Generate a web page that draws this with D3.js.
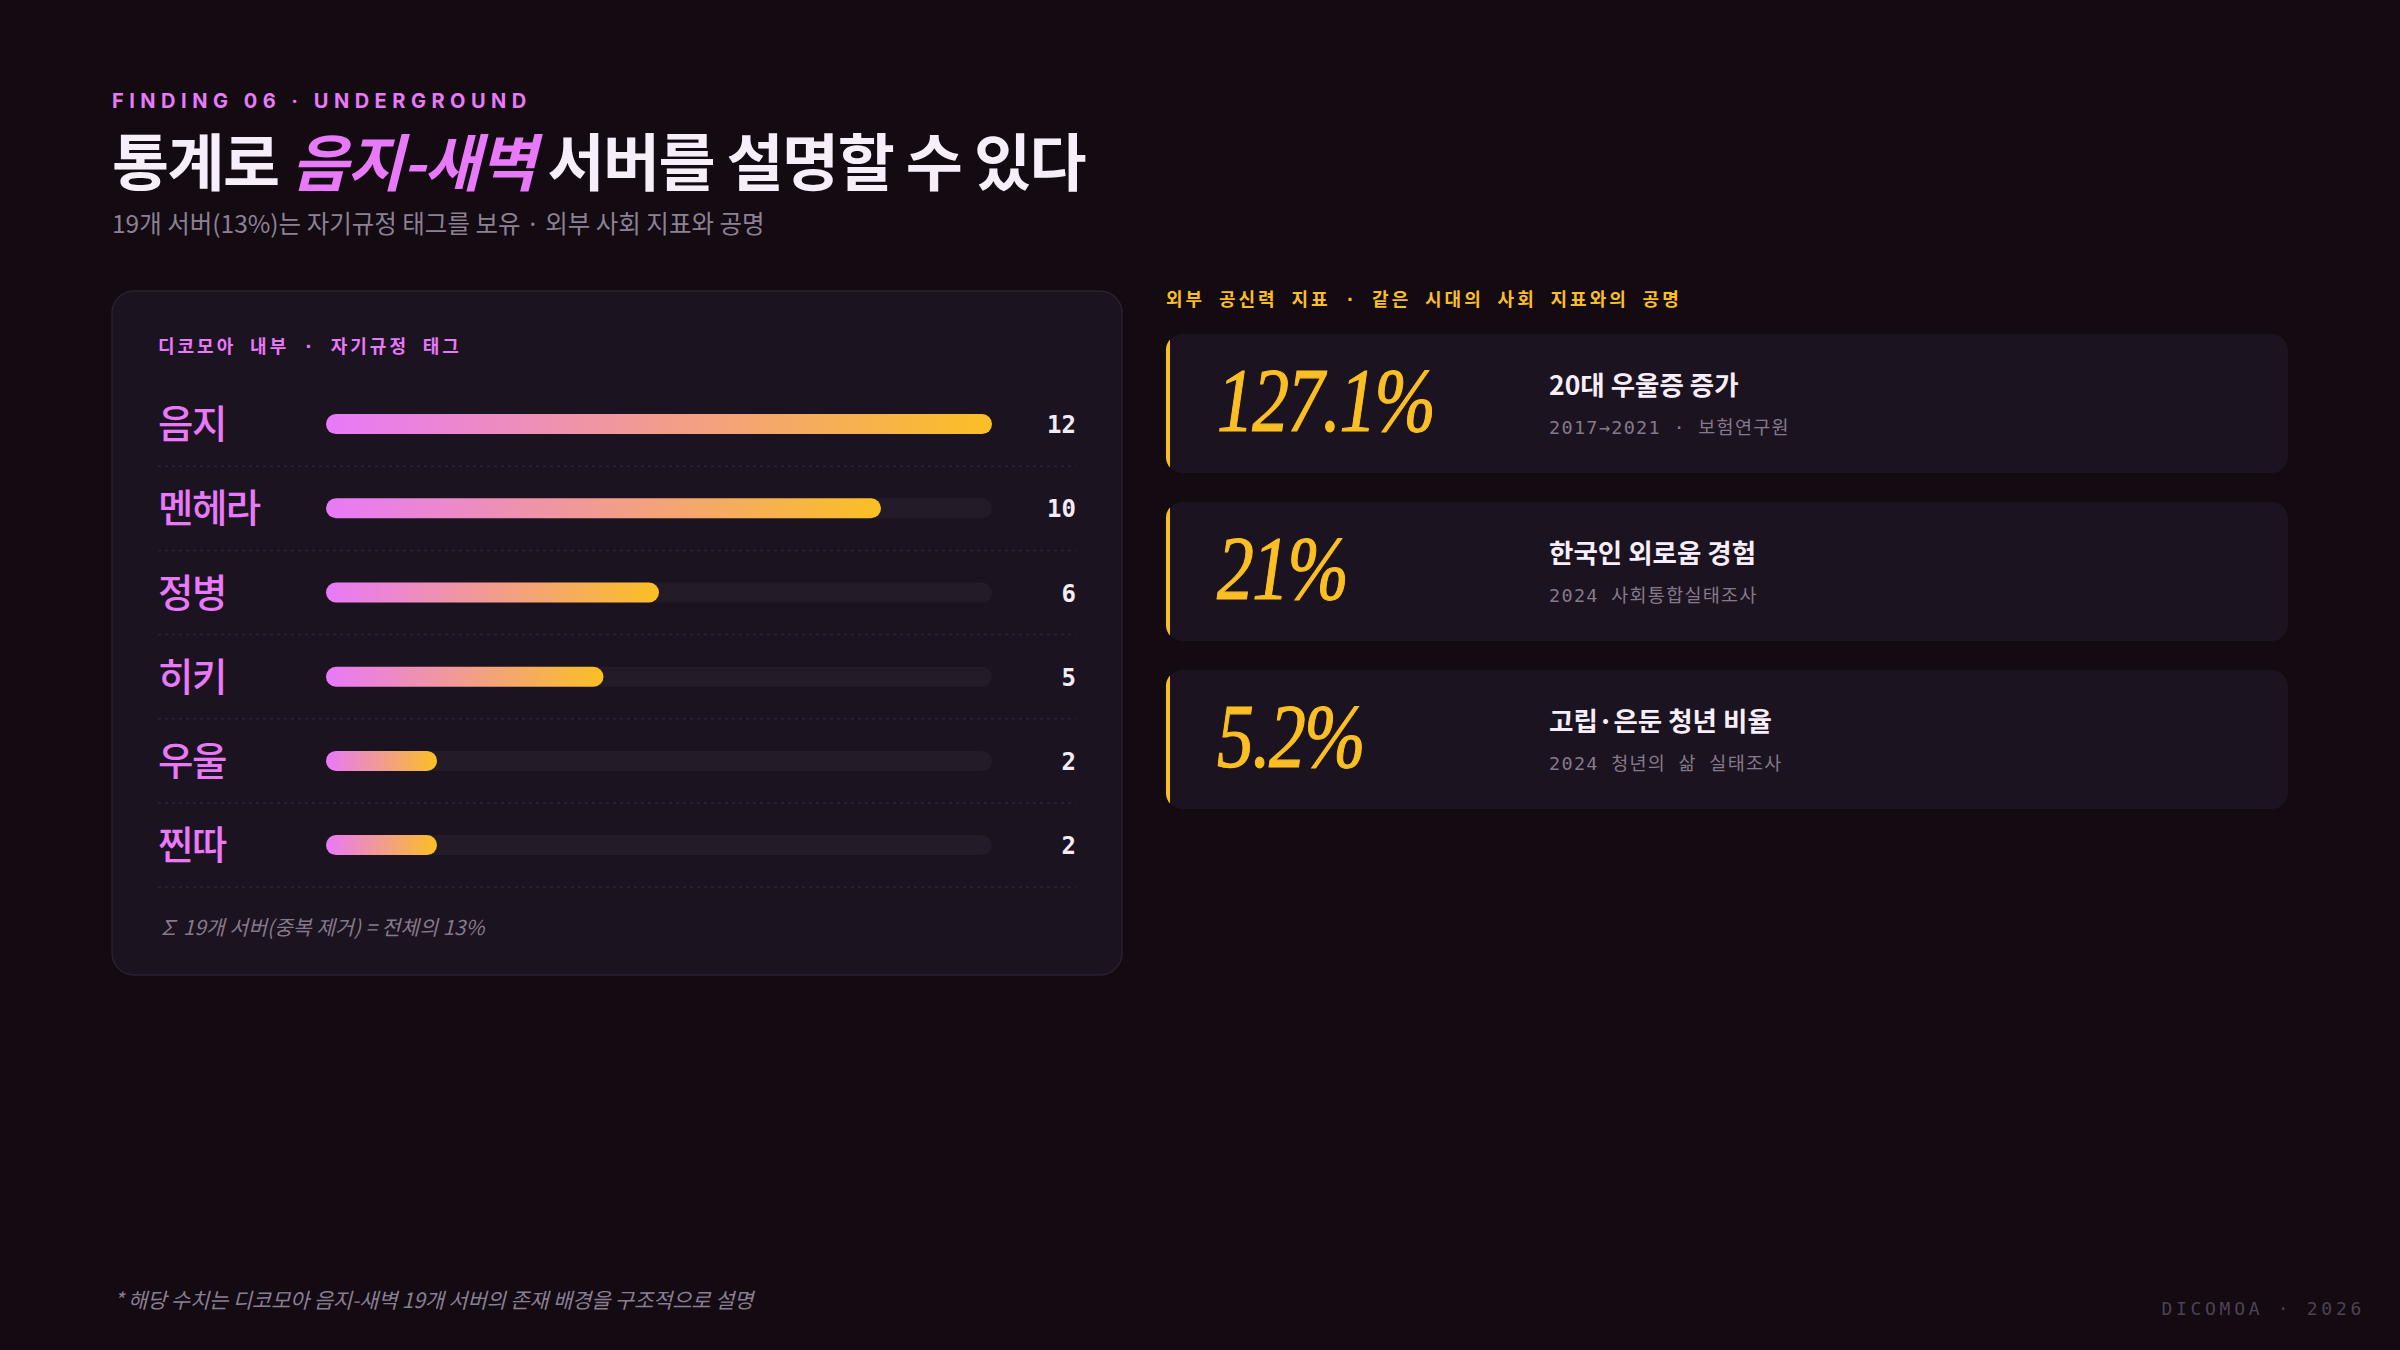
<!DOCTYPE html>
<html><head><meta charset="utf-8">
<script src="https://cdn.jsdelivr.net/npm/d3@7/dist/d3.min.js"></script>
<style>
html,body{margin:0;padding:0;background:#130a12;}
svg{display:block;}
</style></head>
<body>
<svg id="chart" width="2400" height="1350"></svg>
<script>
// ---- data ----
const tagCategories = ["음지", "멘헤라", "정병", "히키", "우울", "찐따"];
const tagCounts = [12, 10, 6, 5, 2, 2];
const statValues = ["127.1%", "21%", "5.2%"];
const statTitles = ["20대 우울증 증가", "한국인 외로움 경험", "고립·은둔 청년 비율"];
const statSources = ["2017→2021 · 보험연구원", "2024 사회통합실태조사", "2024 청년의 삶 실태조사"];
const eyebrowText = "FINDING 06 · UNDERGROUND";
const titleParts = ["통계로 ", "음지-새벽", " 서버를 설명할 수 있다"];
const subtitleText = "19개 서버(13%)는 자기규정 태그를 보유 · 외부 사회 지표와 공명";
const panelHeader = "디코모아 내부 · 자기규정 태그";
const panelFooter = "∑ 19개 서버(중복 제거) = 전체의 13%";
const rightHeader = "외부 공신력 지표 · 같은 시대의 사회 지표와의 공명";
const footnote = "* 해당 수치는 디코모아 음지-새벽 19개 서버의 존재 배경을 구조적으로 설명";
const brand = "DICOMOA · 2026";

const svg = d3.select("#chart");
const KR = "'Noto Sans CJK KR', 'Noto Sans', sans-serif";
const MONO = "'DejaVu Sans Mono', 'Noto Sans CJK KR', monospace";
const PINK = "#e879f9", GOLD = "#fbbf24";

const defs = svg.append("defs");
const grad = defs.append("linearGradient").attr("id", "barGrad")
  .attr("x1", 0).attr("x2", 1).attr("y1", 0).attr("y2", 0);
grad.append("stop").attr("offset", "0%").attr("stop-color", PINK);
grad.append("stop").attr("offset", "100%").attr("stop-color", GOLD);

svg.append("rect").attr("width", 2400).attr("height", 1350).attr("fill", "#130a12");

// ---- header ----
svg.append("text").attr("x", 112).attr("y", 108)
  .attr("font-family", "Inter, 'Noto Sans', sans-serif").attr("font-weight", 700)
  .attr("font-size", 20).attr("letter-spacing", 5.5).attr("fill", PINK)
  .text(eyebrowText);

const title = svg.append("text").attr("x", 112).attr("y", 186)
  .attr("font-family", KR).attr("font-weight", 700).attr("font-size", 62)
  .attr("letter-spacing", -1.5).attr("fill", "#f6eef8");
title.append("tspan").text(titleParts[0]);
title.append("tspan").attr("fill", PINK).attr("font-style", "italic").text(titleParts[1]);
title.append("tspan").text(titleParts[2]);

svg.append("text").attr("x", 112).attr("y", 233)
  .attr("font-family", KR).attr("font-size", 24.5).attr("fill", "#8c8195")
  .text(subtitleText);

// ---- left panel ----
svg.append("rect").attr("x", 112).attr("y", 291).attr("width", 1010).attr("height", 684)
  .attr("rx", 22).attr("fill", "#1c1320").attr("stroke", "#2a2030").attr("stroke-width", 1.5);

svg.append("text").attr("x", 158).attr("y", 353)
  .attr("font-family", MONO).attr("font-weight", 700).attr("font-size", 18)
  .attr("letter-spacing", 3).attr("fill", PINK).text(panelHeader);

const x = d3.scaleLinear().domain([0, 12]).range([326, 992]);
const y = d3.scaleBand().domain(tagCategories).range([382, 887.2]).paddingInner(0);
const barH = 20;

const rows = svg.append("g").selectAll("g").data(tagCategories).join("g");
rows.append("line")
  .attr("x1", 158).attr("x2", 1076)
  .attr("y1", d => y(d) + y.bandwidth()).attr("y2", d => y(d) + y.bandwidth())
  .attr("stroke", "#2c2332").attr("stroke-width", 1.5).attr("stroke-dasharray", "3,4");
rows.append("text")
  .attr("x", 158).attr("y", d => y(d) + y.bandwidth() / 2 + 14)
  .attr("font-family", KR).attr("font-weight", 500).attr("font-size", 38.5)
  .attr("letter-spacing", -1.5).attr("fill", PINK).text(d => d);
rows.append("rect")
  .attr("x", x(0)).attr("y", d => y(d) + y.bandwidth() / 2 - barH / 2)
  .attr("width", x(12) - x(0)).attr("height", barH).attr("rx", barH / 2)
  .attr("fill", "#241b29");
rows.append("rect")
  .attr("x", x(0)).attr("y", d => y(d) + y.bandwidth() / 2 - barH / 2)
  .attr("width", (d, i) => x(tagCounts[i]) - x(0)).attr("height", barH).attr("rx", barH / 2)
  .attr("fill", "url(#barGrad)");
rows.append("text")
  .attr("x", 1076).attr("y", d => y(d) + y.bandwidth() / 2 + 9)
  .attr("text-anchor", "end")
  .attr("font-family", MONO).attr("font-weight", 700).attr("font-size", 24)
  .attr("fill", "#f3ecf5").text((d, i) => tagCounts[i]);

svg.append("text").attr("x", 158).attr("y", 935)
  .attr("font-family", KR).attr("font-style", "italic").attr("font-size", 20.5)
  .attr("fill", "#857a8c").text(panelFooter);

// ---- right cards ----
svg.append("text").attr("x", 1166).attr("y", 306)
  .attr("font-family", MONO).attr("font-weight", 700).attr("font-size", 18)
  .attr("letter-spacing", 3).attr("fill", GOLD).text(rightHeader);

const cardY = d3.scalePoint().domain(d3.range(statValues.length)).range([334, 670]);
const cardW = 1122, cardH = 139;
const cards = svg.append("g").selectAll("g").data(statValues).join("g")
  .attr("transform", (d, i) => `translate(1166,${cardY(i)})`);
cards.each(function (d, i) {
  const g = d3.select(this);
  const cid = "cardClip" + i;
  defs.append("clipPath").attr("id", cid)
    .append("rect").attr("width", cardW).attr("height", cardH).attr("rx", 16);
  const inner = g.append("g").attr("clip-path", `url(#${cid})`);
  inner.append("rect").attr("width", cardW).attr("height", cardH).attr("fill", "#1c1320");
  inner.append("rect").attr("width", 4).attr("height", cardH).attr("fill", GOLD);
  g.append("text").attr("x", 0).attr("y", 0)
    .attr("transform", "translate(51,97) scale(0.8,1)")
    .attr("font-family", "'Liberation Serif', 'DejaVu Serif', serif")
    .attr("font-style", "italic").attr("font-size", 92).attr("letter-spacing", -2)
    .attr("fill", GOLD).attr("stroke", GOLD).attr("stroke-width", 1.2).text(d);
  g.append("text").attr("x", 383).attr("y", 61)
    .attr("font-family", KR).attr("font-weight", 700).attr("font-size", 26.5)
    .attr("fill", "#f6eef8").text(statTitles[i]);
  g.append("text").attr("x", 383).attr("y", 100)
    .attr("font-family", MONO).attr("font-size", 18.5).attr("letter-spacing", 1.3)
    .attr("fill", "#857a8c").text(statSources[i]);
});

// ---- footer ----
svg.append("text").attr("x", 114).attr("y", 1308)
  .attr("font-family", KR).attr("font-style", "italic").attr("font-size", 21)
  .attr("letter-spacing", -0.2).attr("fill", "#8a7f92").text(footnote);

svg.append("text").attr("x", 2365).attr("y", 1315).attr("text-anchor", "end")
  .attr("font-family", MONO).attr("font-size", 18).attr("letter-spacing", 3.7)
  .attr("fill", "#4d4352").text(brand);
</script>
</body></html>
